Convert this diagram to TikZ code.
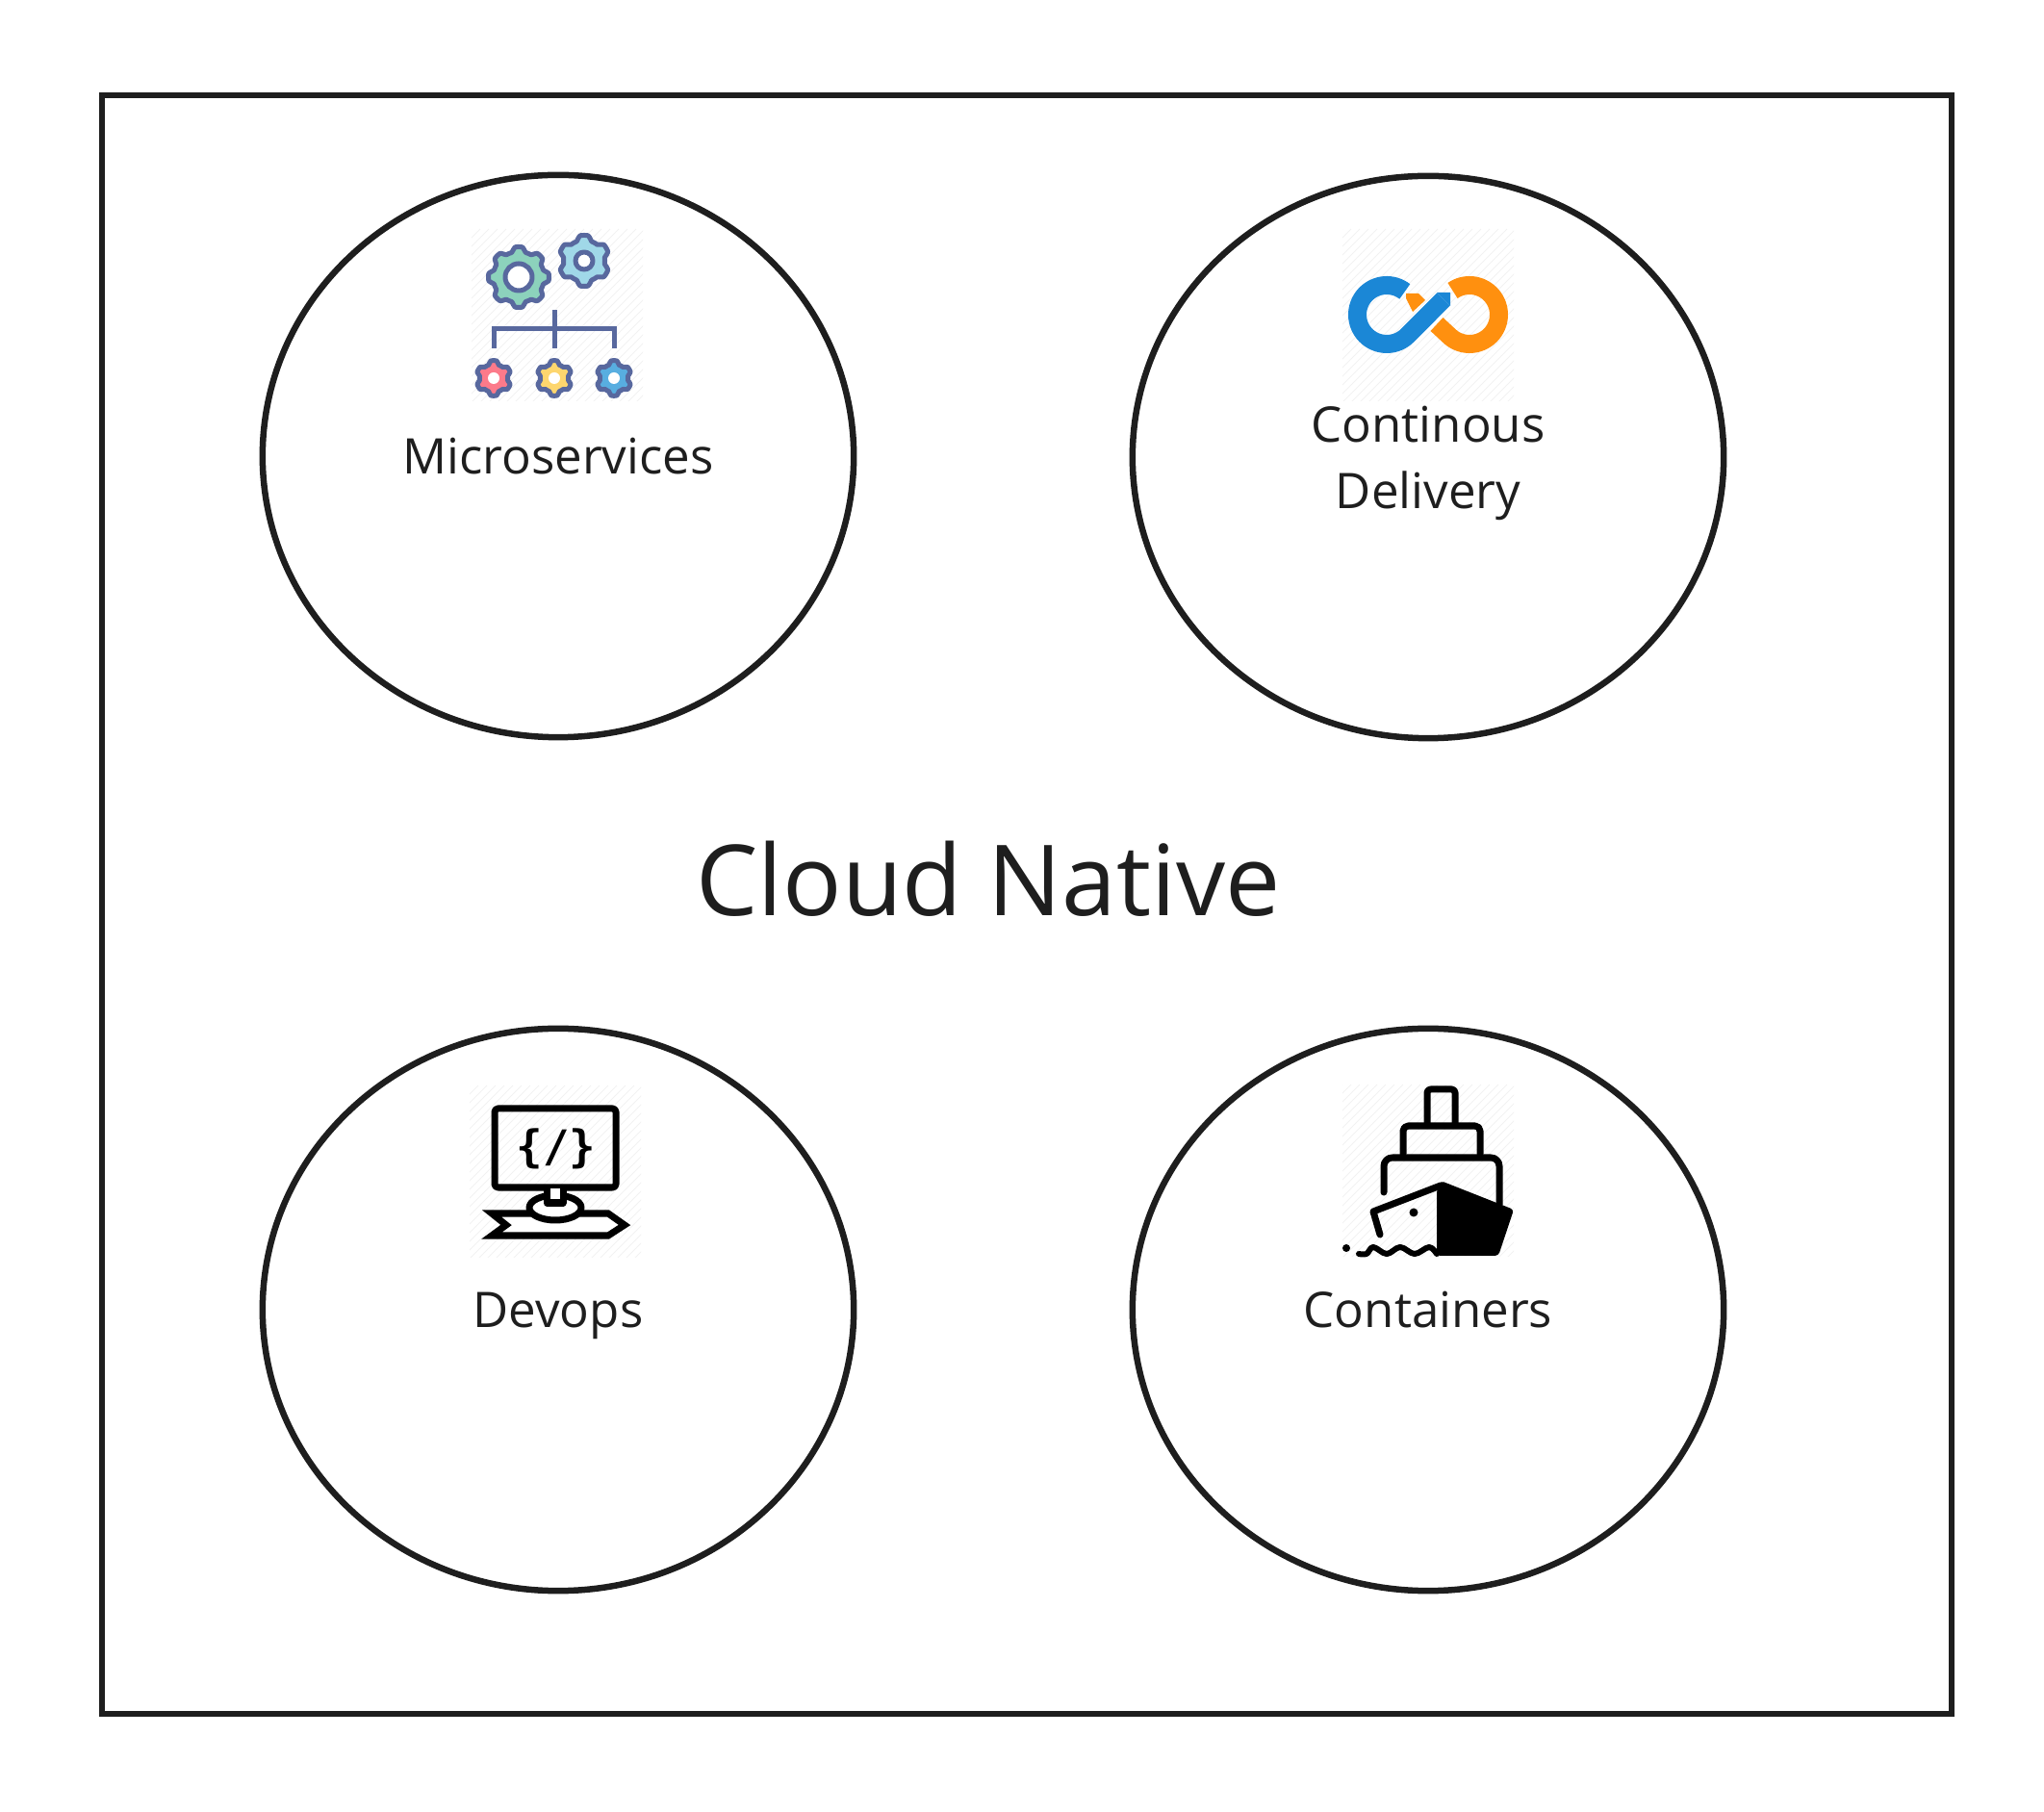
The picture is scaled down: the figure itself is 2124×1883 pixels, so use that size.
\documentclass[tikz,border=0pt]{standalone}
\usepackage{fontspec}
\setmainfont{Open Sans}
\setmonofont{DejaVu Sans Mono}
\usetikzlibrary{shapes.geometric}
\definecolor{inkblack}{RGB}{30,30,30}
\definecolor{gearline}{RGB}{88,104,158}
\definecolor{gearmint}{RGB}{140,210,188}
\definecolor{gearsky}{RGB}{160,216,232}
\definecolor{gearpink}{RGB}{252,122,138}
\definecolor{gearyellow}{RGB}{253,214,110}
\definecolor{gearblue}{RGB}{88,174,224}
\definecolor{loopblue}{RGB}{27,135,214}
\definecolor{looporange}{RGB}{255,144,15}
\tikzset{
    bubble/.style={draw=inkblack, ellipse, line width=0.065cm, minimum width=6.14cm, minimum height=5.84cm, inner sep=0pt, align=center, text=inkblack, text depth=0pt, font=\fontsize{14.5}{19.6}\selectfont},
    bigtitle/.style={text=inkblack, inner sep=0pt, font=\fontsize{29}{36}\selectfont},
    iconline/.style={line width=0.07cm, black, line cap=round, line join=round},
    gearedge/.style={draw=gearline, line width=0.05cm, line join=round},
    loopband/.style={line width=0.19cm},
}
% center x, center y, teeth, radius, tooth depth, hole radius, fill, hole style
\newcommand{\gearicon}[8]{
    \draw[gearedge, fill=#7] plot[domain=0:360, samples=145, variable=\t] ({#1+(#4+#5*max(-1,min(1,1.7*cos(#3*(\t-270)))))*cos(\t)},{#2+(#4+#5*max(-1,min(1,1.7*cos(#3*(\t-270)))))*sin(\t)}) -- cycle;
    \path[#8] (#1,#2) circle[radius=#6];
}
% left, top of a faintly striped square
\newcommand{\iconpatch}[2]{
    \begin{scope}
        \clip (#1,#2) rectangle ++(178,179);
        \foreach \s in {0,9,...,360} {
            \draw[black!5, line width=0.01cm] (#1+\s,#2) -- ++(-180,180);
        }
    \end{scope}
}
\begin{document}
\begin{tikzpicture}[x=0.01cm, y=-0.01cm]
    \useasboundingbox (0,0) rectangle (2124,1883);
    \draw[inkblack, line width=0.065cm] (106,99) rectangle (2028,1781);

    \node[bubble] (micro) at (580,474) {Microservices};
    \node[bubble] (delivery) at (1484,475) {Continous\\Delivery};
    \node[bubble] (devops) at (580,1361) {Devops};
    \node[bubble] (containers) at (1484,1361) {Containers};
    \node[bigtitle] (cloud) at (1027,913) {Cloud Native};

    \iconpatch{490}{238}
    \iconpatch{1395}{238}
    \iconpatch{488}{1128}
    \iconpatch{1395}{1127}

    % gears
    \gearicon{539}{288}{8}{29}{2.5}{14}{gearmint}{gearedge, fill=white}
    \gearicon{607}{271}{6}{24}{2.5}{9}{gearsky}{gearedge, fill=white}
    \gearicon{513}{393}{6}{16.5}{1.8}{6}{gearpink}{fill=white}
    \gearicon{576}{393}{6}{16.5}{1.8}{6}{gearyellow}{fill=white}
    \gearicon{638}{393}{6}{16.5}{1.8}{6}{gearblue}{fill=white}
    \draw[gearline, line width=0.05cm] (576,322) -- (576,362);
    \draw[gearline, line width=0.05cm] (513,362) -- (513,342) -- (638,342) -- (638,362);

    % loop
    \draw[loopblue, loopband] plot[domain=52:315, samples=50, variable=\t] ({1441+30.5*cos(\t)},{327-30.5*sin(\t)}) -- (1500,311);
    \fill[loopblue] (1493,304) -- (1507,304) -- (1507,318) -- cycle;
    \draw[looporange, loopband] plot[domain=125:-135, samples=50, variable=\t] ({1527+30.5*cos(\t)},{327-30.5*sin(\t)}) -- (1493,337);
    \fill[looporange] (1461,305) -- (1474,305) -- (1481,312) -- (1468,324) -- (1461,310) -- cycle;

    % monitor
    \draw[iconline] (514,1152) [rounded corners=1] rectangle (640,1234);
    \draw[iconline, line join=miter, fill=white] (511,1261) -- (526,1273) -- (511,1284) -- (632,1284) -- (649,1273) -- (632,1261) -- cycle;
    \draw[iconline, fill=white] (577,1255) ellipse[x radius=27, y radius=13];
    \draw[iconline, fill=white] (568,1235) -- (568,1250) -- (585,1250) -- (585,1235);
    \node[inner sep=0pt, font=\ttfamily\bfseries\fontsize{13}{14}\selectfont] (code) at (578,1194) {\{/\}};

    % ship
    \draw[iconline] (1483,1167) [rounded corners=1] -- (1483,1132) -- (1512,1132) -- (1512,1167);
    \draw[iconline] (1458,1199) [rounded corners=1.5] -- (1458,1170) -- (1538,1170) -- (1538,1199);
    \draw[iconline] (1438,1239) [rounded corners=2.5] -- (1438,1203) -- (1558,1203) [sharp corners] -- (1558,1252);
    \fill[black, rounded corners=1] (1493,1237) -- (1497,1227) -- (1573,1257) -- (1557,1305) -- (1493,1305) -- cycle;
    \draw[iconline] (1497,1232) -- (1427,1259) -- (1434,1283);
    \fill[black] (1469,1260) circle[radius=4.5];
    \fill[black] (1399,1297) circle[radius=4];
    \draw[iconline, line width=0.06cm] plot[smooth, tension=0.6] coordinates {(1412,1303) (1420,1303) (1427,1296) (1441,1303) (1455,1296) (1470,1303) (1485,1296) (1493,1303)};
\end{tikzpicture}
\end{document}
